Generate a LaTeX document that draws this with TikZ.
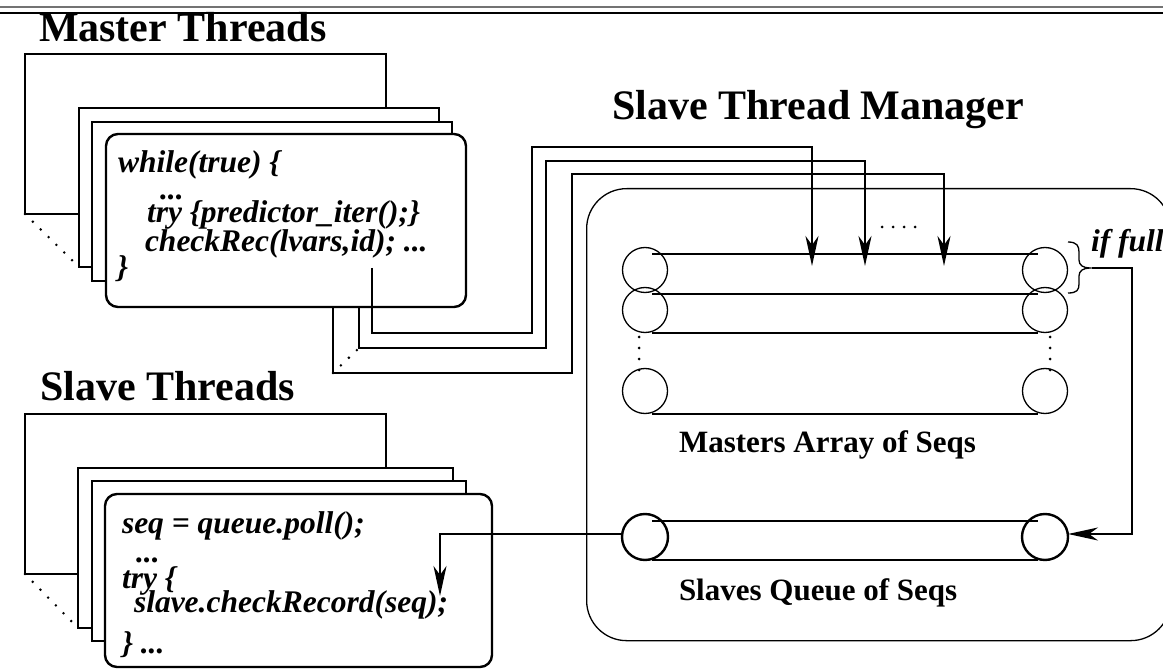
\documentclass[tikz,border=0pt]{standalone}
\usepackage{fontspec}
\setmainfont{Liberation Serif}
\usetikzlibrary{arrows.meta}

\newcommand\hdfont{\fontsize{42}{42}\selectfont\bfseries}
\newcommand\cdfont{\fontsize{31.5}{31.5}\selectfont\bfseries\itshape}
\newcommand\lbfont{\fontsize{31}{31}\selectfont\bfseries}

\begin{document}
\begin{tikzpicture}[x=1pt,y=-1pt,
  txt/.style={anchor=base west,inner sep=0pt,outer sep=0pt},
  heading/.style={txt,font=\hdfont},
  codeline/.style={txt,font=\cdfont},
  seqlabel/.style={txt,font=\lbfont},
  frame/.style={draw,fill=white,line width=2.4pt,anchor=north west,inner sep=0pt,outer sep=0pt},
  frontframe/.style={frame,rounded corners=12pt},
  depthdots/.style={line width=2.8pt,line cap=round,dash pattern=on 0pt off 11pt},
  smalldots/.style={line width=3pt,line cap=round,dash pattern=on 0pt off 11pt},
  conn/.style={line width=2.4pt},
  arrowend/.style={-{Stealth[length=30pt,width=13pt,inset=9pt]}},
  seqthin/.style={draw,circle,minimum size=45pt,inner sep=0pt,outer sep=0pt,line width=1.3pt},
  seqthick/.style={draw,circle,minimum size=46pt,inner sep=0pt,outer sep=0pt,line width=2.4pt},
  tube/.style={line width=1.3pt},
  tubethick/.style={line width=2.4pt},
]
\useasboundingbox (0,0) rectangle (1163,671);

% rules across the top
\draw[black!55,line width=1.5pt] (0,7) -- (1163,7);
\draw[line width=1.7pt] (0,13) -- (1163,13);

% ---------- master threads ----------
\node[heading] (mhead) at (39,42) {Master Threads};
\node[frame,minimum width=361pt,minimum height=160pt] (mback) at (25,54) {};
\node[frame,minimum width=360pt,minimum height=159pt] (msecond) at (79,108) {};
\node[frame,minimum width=360pt,minimum height=159pt] (mthird) at (92,122) {};
\node[frontframe,minimum width=360pt,minimum height=173pt] (mfront) at (106,134) {};
\draw[depthdots] (mback.south west) -- (msecond.south west);

\node[codeline] (mc1) at (118,173) {while(true) \{};
\node[codeline] (mc2) at (160,200) {...};
\node[codeline] (mc3) at (147,223) {try \{predictor\_iter();\}};
\node[codeline] (mc4) at (145,252) {checkRec(lvars,id); ...};
\node[codeline] (mc5) at (117,278) {\}};

% ---------- slave threads ----------
\node[heading] (shead) at (40,400) {Slave Threads};
\node[frame,minimum width=361pt,minimum height=160pt] (sback) at (25,414) {};
\node[frame,minimum width=375pt,minimum height=160pt] (ssecond) at (78,468) {};
\node[frame,minimum width=374pt,minimum height=160pt] (sthird) at (92,481) {};
\node[frontframe,minimum width=387pt,minimum height=173pt] (sfront) at (105,494) {};
\draw[depthdots] (sback.south west) -- (ssecond.south west);

\node[codeline] (sc1) at (122,533) {seq = queue.poll();};
\node[codeline] (sc2) at (136,562) {...};
\node[codeline] (sc3) at (122,588) {try \{};
\node[codeline] (sc4) at (134,612) {slave.checkRecord(seq);};
\node[codeline] (sc5) at (122,653) {\} ...};

% ---------- slave thread manager ----------
\node[heading] (mgrhead) at (612,120) {Slave Thread Manager};
\node[draw,line width=1.3pt,rounded corners=40pt,anchor=north west,inner sep=0pt,
      minimum width=584pt,minimum height=452pt] (mgr) at (586,188) {};

% masters array of sequences
\node[seqthin] (a1l) at (645,270) {};
\node[seqthin] (a1r) at (1045,270) {};
\node[seqthin] (a2l) at (645,310) {};
\node[seqthin] (a2r) at (1045,310) {};
\node[seqthin] (anl) at (645,391) {};
\node[seqthin] (anr) at (1045,391) {};
\draw[tube] (652,254) -- (1038,254);
\draw[tube] (652,294) -- (1038,294);
\draw[tube] (652,333) -- (1038,333);
\draw[tube] (652,414) -- (1038,414);
\draw[smalldots] (639,337) -- (639,371);
\draw[smalldots] (1050,337) -- (1050,371);
\draw[smalldots] (882,227) -- (926,227);
\node[seqlabel] (alabel) at (679,452) {Masters Array of Seqs};

% brace and overflow note
\draw[line width=1.3pt] (1068,242) .. controls (1077,242) and (1079,246) .. (1079,252)
  -- (1079,260) .. controls (1079,265) and (1083,268) .. (1090,268)
  .. controls (1083,268) and (1079,271) .. (1079,276)
  -- (1079,284) .. controls (1079,290) and (1077,293) .. (1068,293);
\node[codeline] (iffull) at (1091,252) {if full};

% slaves queue of sequences
\node[seqthick] (ql) at (645,537) {};
\node[seqthick] (qr) at (1045,537) {};
\draw[tubethick] (652,521) -- (1038,521);
\draw[tubethick] (652,560) -- (1038,560);
\node[seqlabel] (qlabel) at (679,600) {Slaves Queue of Seqs};

% ---------- connectors ----------
\coordinate (m1out) at (372,268);
\coordinate (m2out) at (359,307);
\coordinate (m3out) at (333,307);
\coordinate (b1) at (532,333);
\coordinate (b2) at (546,348);
\coordinate (b3) at (572,373);
\coordinate (t1) at (812,147);
\coordinate (t2) at (865,161);
\coordinate (t3) at (944,174);
\coordinate (in1) at (812,266);
\coordinate (in2) at (865,266);
\coordinate (in3) at (944,266);
\draw[conn,arrowend] (m1out) |- (b1) |- (t1) -- (in1);
\draw[conn,arrowend] (m2out) |- (b2) |- (t2) -- (in2);
\draw[conn,arrowend] (m3out) |- (b3) |- (t3) -- (in3);
\draw[depthdots] (333,373) -- (359,348);

\coordinate (fullout) at (1092,268);
\coordinate (qturn) at (1132,534);
\coordinate (qin) at (1068,534);
\draw[conn,arrowend] (fullout) -| (qturn) -- (qin);

\coordinate (qout) at (622,534);
\coordinate (sin) at (440,596);
\draw[conn,arrowend] (qout) -| (sin);
\end{tikzpicture}
\end{document}
